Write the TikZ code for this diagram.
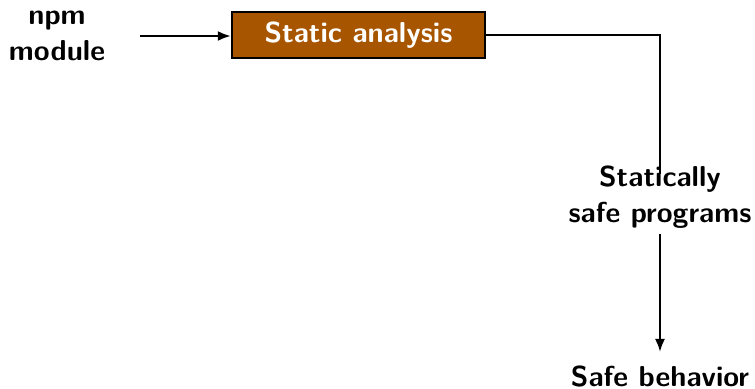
\documentclass[tikz,border=0pt]{standalone}
\usetikzlibrary{arrows.meta}
\definecolor{stagebrown}{RGB}{168,85,0}
\begin{document}
\begin{tikzpicture}[x=0.5pt,y=-0.5pt,
  label/.style={font=\sffamily\bfseries\Large, align=center, inner sep=0pt},
  stage/.style={label, draw=black, line width=1.2pt, fill=stagebrown, text=white,
                minimum width=126.5pt, minimum height=23pt},
  flow/.style={line width=1.1pt, -{Latex[length=6.5pt,width=5pt]}},
  link/.style={line width=1.1pt}]
\useasboundingbox (0,0) rectangle (755,388);
\node[label] (npm) at (57,36) {npm\\module};
\node[stage] (sa) at (358.5,35) {Static analysis};
\node[label] (ssp) at (660,197) {Statically\\safe programs};
\node[label, anchor=base] (sb) at (660,386) {Safe behavior};
\draw[flow, shorten <=17.5pt] (npm.east) -- (npm.east -| sa.west);
\draw[link, shorten >=-4.5pt] (sa.east) -| (ssp.north);
\draw[flow, shorten <=2.5pt, shorten >=6.5pt] (ssp.south) -- (sb.north);
\end{tikzpicture}
\end{document}
